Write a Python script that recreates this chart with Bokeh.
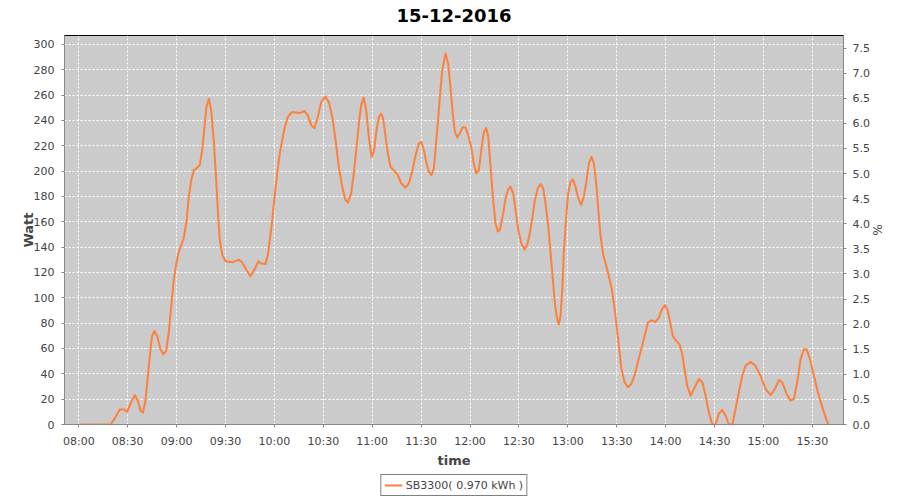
import pandas as pd
from bokeh.plotting import figure
from bokeh.layouts import column
from bokeh.models import (Range1d, LinearAxis, FixedTicker, DatetimeTickFormatter,
                          NumeralTickFormatter, Legend, LegendItem, Title)
from bokeh.embed import file_html
from bokeh.resources import INLINE

day = "2016-12-15"
start_time = "08:00"
title_text = "15-12-2016"
series_name = "SB3300( 0.970 kWh )"

# minutes after 08:00
t_min = [0, 19.5, 22.5, 25.2, 28.0, 29.7, 31.7, 34.4, 36.2, 37.9, 39.3, 40.9, 42.6, 44.0, 45.0, 46.4, 48.1, 50.1,
         51.8, 53.6, 55.2, 56.9, 58.3, 59.9, 61.4, 63.0, 64.4, 66.1, 67.5, 69.0, 70.6, 72.6, 74.2, 75.7, 77.1,
         78.3, 79.8, 81.2, 82.8, 84.3, 85.5, 86.5, 88.0, 90.0, 94.1, 98.2, 100.2, 102.7, 105.3, 107.8, 110.1,
         112.1, 114.5, 116.0, 117.2, 118.7, 120.1, 121.7, 123.3, 124.8, 126.4, 128.2, 130.9, 135.6, 138.5,
         140.5, 142.6, 144.6, 146.6, 148.7, 151.3, 153.4, 155.5, 157.5, 159.5, 161.6, 163.6, 165.0, 167.1,
         168.7, 170.4, 172.0, 173.4, 174.8, 176.3, 177.9, 179.6, 181.0, 182.6, 184.1, 185.5, 186.7, 188.2,
         189.6, 191.2, 193.7, 195.7, 197.8, 200.4, 202.5, 204.5, 206.6, 208.6, 210.1, 211.7, 213.3, 214.7,
         216.4, 217.8, 218.8, 220.2, 221.5, 222.9, 225.0, 226.6, 228.0, 229.4, 230.7, 232.2, 233.7, 235.6,
         237.2, 238.9, 240.7, 242.3, 243.8, 245.4, 246.9, 248.5, 249.9, 251.2, 252.6, 254.0, 255.6, 257.1,
         258.3, 260.4, 261.8, 263.2, 264.8, 266.5, 267.9, 269.6, 271.4, 273.4, 275.1, 276.7, 278.2, 279.8,
         281.6, 283.3, 284.9, 286.3, 288.0, 289.4, 290.8, 292.0, 293.5, 294.5, 295.5, 296.6, 297.5, 299.0,
         300.2, 301.7, 303.1, 304.7, 306.4, 308.2, 309.8, 311.5, 312.9, 314.5, 316.0, 317.4, 318.7, 320.1,
         321.7, 323.6, 325.2, 326.8, 328.2, 329.7, 331.3, 332.9, 334.8, 336.8, 338.9, 340.9, 342.9, 345.0,
         347.1, 349.1, 351.2, 353.8, 355.8, 357.5, 359.5, 361.0, 362.6, 364.4, 366.5, 368.5, 370.2, 371.6,
         373.2, 375.3, 377.3, 380.4, 382.5, 384.5, 386.5, 388.6, 390.6, 392.6, 394.7, 396.7, 398.8, 400.9,
         402.9, 404.9, 407.0, 409.0, 412.1, 415.1, 418.2, 421.3, 424.4, 427.0, 429.5, 431.5, 434.2, 436.6,
         438.7, 440.7, 442.8, 444.8, 446.4, 448.5, 450.9, 453.4, 456.1, 458.1, 459.8]

watts = [0, 0, 5.8, 11.8, 11.8, 10.2, 16.3, 23.3, 18.8, 11, 9.2, 18.8, 41.1, 59.4, 69.9, 73.8, 69.9, 59.4,
         55.4, 58.1, 72.6, 96.1, 114.4, 127.5, 136.6, 141.9, 147.2, 160.2, 179.8, 192.9, 200.8, 202.6, 204.7, 216.5, 234.8,
         250.5, 257.1, 247.9, 224.4, 192.9, 164.1, 145.8, 134, 128.8, 128, 130.1, 128, 122.3, 117, 122.3, 128.8,
         127, 126.7, 134, 145.8, 161.5, 179.8, 198.2, 213.9, 224.4, 234.8, 242.7, 246.6, 245.8, 247.4,
         244, 236.1, 234, 242.7, 254.4, 258.9, 254.4, 242.7, 224.4, 203.4, 187.7, 177.2, 175.1, 182.5,
         198.2, 219.1, 240.1, 253.2, 257.9, 247.9, 227, 211.2, 215.2, 232.2, 242.7, 245.3, 241.4, 227,
         213.9, 203.4, 200, 196.9, 190.4, 186.9, 190.4, 199.5, 212.6, 221.8, 223, 216.5, 206.1, 199.5,
         196.9, 202.1, 216.5, 237.5, 258.4, 279.3, 292.9, 284.6, 266.2, 245.3, 230.9, 226.5, 229.6, 234.8,
         234.3, 228.3, 219.1, 206.1, 198.2, 200.8, 216.5, 230.9, 234, 227, 203.4, 179.8, 158.9, 152.3,
         153.7, 166.8, 178.6, 185.1, 187.7, 182.5, 169.4, 153.7, 143.2, 138, 141.9, 151.1, 162.9, 177.2,
         186.4, 189.8, 186.4, 174.6, 156.3, 135.4, 114.4, 96.1, 83, 79.1, 85.6, 106.6, 135.4, 164.1,
         182.5, 191.6, 193.5, 187.7, 178.6, 173.3, 179.8, 192.9, 206.1, 211.2, 206.1, 190.4, 169.4, 148.4,
         134, 124.9, 117, 107.9, 96.1, 80.4, 62, 43.7, 33.3, 29.4, 32, 38.5, 49, 59.4,
         69.9, 80.4, 82.2, 80.9, 84.3, 90.3, 94.2, 90.9, 81.7, 69.9, 66, 63.4, 55.5, 43.7,
         30.6, 22.8, 28, 35.9, 33.3, 22.8, 9.7, 0, 0, 8.4, 11.5, 7.1, 0, 0,
         12.3, 25.4, 38.5, 46.3, 49.5, 46.3, 38.5, 28, 23.3, 28, 35.1, 33.3, 24.1, 18.8,
         20.2, 33.3, 51.6, 59.4, 59.4, 51.6, 38.5, 25.4, 13.7, 5.8, 0]

x_ticks = ["08:00","08:30","09:00","09:30","10:00","10:30","11:00","11:30",
           "12:00","12:30","13:00","13:30","14:00","14:30","15:00","15:30"]
w_ticks = list(range(0, 301, 20))
pct_ticks = [i * 0.5 for i in range(16)]
x_start, x_end = "07:51:14", "15:49:06"
w_max = 307
pct_max = 7.75

def ts(s):
    return pd.Timestamp(f"{day} {s}")

def ms(s):
    return ts(s).value / 1e6

base = ts(start_time + ":00")
xs = [base + pd.Timedelta(minutes=m) for m in t_min]

TXT = "#444444"
FONT = "DejaVu Sans"
LINE = "#FF7F3C"

# title strip
tf = figure(width=900, height=34, x_range=Range1d(0, 1), y_range=Range1d(0, 1),
            x_axis_type=None, y_axis_type=None, output_backend="svg", toolbar_location=None,
            min_border=0, outline_line_color=None)
tf.xgrid.visible = False
tf.ygrid.visible = False
tf.title = Title(text=title_text, align="center", text_font=FONT, text_font_size="18px",
                 text_font_style="bold", text_color="black", standoff=12, offset=0)

p = figure(width=900, height=436, x_axis_type="datetime",
           x_range=Range1d(ts(x_start), ts(x_end)), y_range=Range1d(0, w_max),
           output_backend="svg", toolbar_location=None,
           min_border_left=64, min_border_right=57, min_border_top=1, min_border_bottom=43)

p.background_fill_color = "#CBCBCB"
p.border_fill_color = "white"
p.outline_line_color = "black"
p.outline_line_width = 1

r = p.line(xs, watts, line_color=LINE, line_width=2, line_join="round")

p.extra_y_ranges = {"pct": Range1d(0, pct_max)}
raxis = LinearAxis(y_range_name="pct", axis_label="%")
p.add_layout(raxis, "right")

p.xaxis.ticker = FixedTicker(ticks=[ms(t + ":00") for t in x_ticks])
p.xaxis.formatter = DatetimeTickFormatter(minutes="%H:%M", hours="%H:%M", hourmin="%H:%M",
                                          minsec="%H:%M", seconds="%H:%M", days="%H:%M")
p.xaxis.axis_label = "time"
p.yaxis[0].ticker = FixedTicker(ticks=w_ticks)
p.yaxis[0].axis_label = "Watt"
raxis.ticker = FixedTicker(ticks=pct_ticks)
raxis.formatter = NumeralTickFormatter(format="0.0")

for ax in p.axis:
    ax.axis_line_color = "#888888"
    ax.major_tick_line_color = "#888888"
    ax.major_tick_out = 3
    ax.major_tick_in = 0
    ax.minor_tick_line_color = None
    ax.major_label_text_font = FONT
    ax.major_label_text_font_size = "11px"
    ax.major_label_text_color = TXT
    ax.major_label_standoff = 7
    ax.axis_label_text_font = FONT
    ax.axis_label_text_font_size = "13px"
    ax.axis_label_text_font_style = "bold"
    ax.axis_label_text_color = TXT

p.xaxis.axis_label_standoff = 2
p.yaxis[0].axis_label_standoff = -5
raxis.major_label_standoff = 6
raxis.axis_label_standoff = -3
raxis.axis_label_text_font_style = "normal"
raxis.axis_label_text_font_size = "12px"

p.xgrid.ticker = p.xaxis[0].ticker
p.ygrid.ticker = p.yaxis[0].ticker
for g in (p.xgrid, p.ygrid):
    g.grid_line_color = "white"
    g.grid_line_dash = "2 2"
    g.grid_line_width = 1

# legend strip below the chart (its line uses the same data, out of its view)
lf = figure(width=900, height=30, x_range=Range1d(0, 1), y_range=Range1d(0, 1),
            x_axis_type=None, y_axis_type=None, output_backend="svg", toolbar_location=None,
            min_border=0, outline_line_color=None)
lf.xgrid.visible = False
lf.ygrid.visible = False
lr = lf.line(xs, watts, line_color=LINE, line_width=2)
legend = Legend(items=[LegendItem(label=series_name, renderers=[lr])],
                location="center", orientation="horizontal",
                border_line_color="black", border_line_width=1,
                background_fill_color="white", background_fill_alpha=1.0,
                label_text_font=FONT,
                label_text_font_size="11px", label_text_color=TXT,
                glyph_width=18, glyph_height=14, label_standoff=4,
                padding=3, margin=0, spacing=0, label_height=14)
lf.add_layout(legend, "center")

open("out.html", "w").write(file_html(column(tf, p, lf, spacing=0), INLINE))
